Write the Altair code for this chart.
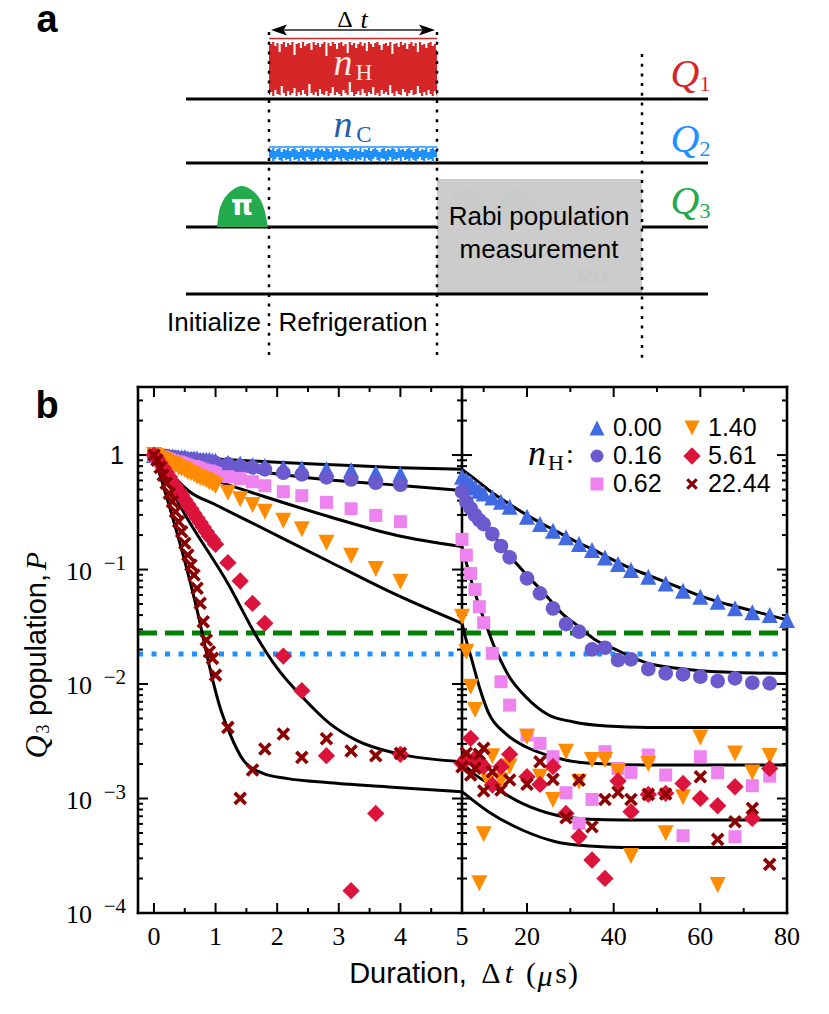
import numpy as np
import pandas as pd
import altair as alt

# time points (us), left part then right part of the broken axis
t_dense = [0, .05, .1, .15, .2, .25, .3, .35, .4, .45, .5, .55, .6, .65, .7, .75, .8, .85, .9, .95, 1]
t_left = t_dense + [1.2, 1.4, 1.6, 1.8, 2.1, 2.4, 2.8, 3.2, 3.6, 4]
t_right = [5, 6, 7, 8, 9, 10, 12, 14, 16, 20, 23, 26, 29, 32, 35, 38, 41, 44, 48, 52, 56, 60, 64, 68, 72, 76, 80]

log_000 = [0, 0, 0, -.01, -.01, -.01, -.01, -.02, -.02, -.02, -.02, -.03, -.03, -.03, -.03, -.04, -.04, -.04, -.04, -.05, -.05,
           -.067, -.073, -.087, -.096, -.108, -.116, -.122, -.131, -.154, -.166,
           -.19, -.219, -.248, -.283, -.312, -.335, -.37, -.408, -.452, -.539, -.603, -.661, -.719, -.778, -.83, -.894, -.952,
           -1.005, -1.063, -1.121, -1.185, -1.238, -1.281, -1.339, -1.374, -1.398, -1.441]
log_016 = [0, 0, -.01, -.01, -.01, -.02, -.02, -.02, -.03, -.03, -.03, -.04, -.04, -.04, -.05, -.05, -.05, -.06, -.06, -.06, -.07,
           -.08, -.096, -.108, -.125, -.154, -.169, -.195, -.213, -.242, -.259,
           -.32, -.408, -.466, -.524, -.568, -.603, -.69, -.795, -.894, -1.077, -1.208, -1.34, -1.476, -1.543, -1.698, -1.683,
           -1.791, -1.785, -1.869, -1.907, -1.916, -1.936, -1.974, -1.951, -1.989, -1.994]
log_062 = [0, -.01, -.02, -.02, -.03, -.04, -.05, -.06, -.06, -.07, -.08, -.09, -.1, -.1, -.11, -.12, -.13, -.14, -.14, -.15, -.16,
           -.189, -.204, -.233, -.268, -.32, -.355, -.413, -.469, -.527, -.582,
           -.737, -.874, -1.034, -1.174, -1.325, -1.465, -1.732, -1.98, -2.184, -2.446, -2.518, -2.635, -2.949, -3.217, -3.008,
           -2.591, -2.737, -2.772, -2.62, -2.795, -3.325, -2.635, -2.775, -3.334, -2.888, -2.804]
log_140 = [0, -.01, -.03, -.04, -.05, -.07, -.08, -.09, -.11, -.12, -.13, -.15, -.16, -.17, -.19, -.2, -.21, -.22, -.24, -.25, -.27,
           -.329, -.387, -.437, -.495, -.574, -.649, -.766, -.879, -.996, -1.106,
           -1.412, -1.718, -2.024, -2.227, -3.741, -3.313, -2.63, -2.84, -2.72, -2.46, -2.81, -3.013, -2.591, -2.853, -2.664,
           -2.664, -2.766, -3.502, -2.699, -3.304, -2.99, -2.466, -3.756, -2.606, -2.772, -2.629]
log_561 = [0, -.03, -.07, -.11, -.15, -.19, -.23, -.27, -.31, -.35, -.39, -.43, -.47, -.51, -.55, -.59, -.63, -.67, -.71, -.74, -.78,
           -.94, -1.1, -1.296, -1.47, -1.756, -2.058, -2.626, -3.805, -3.13, -2.614,
           -2.693, -2.65, -2.474, -2.65, -2.678, -2.72, -2.882, -2.722, -2.614, -2.809, -2.877, -2.722, -3.13, -3.334, -3.537,
           -3.698, -2.847, -3.115, -2.964, -2.955, -2.868, -2.999, -3.063, -2.897, -3.174, -2.737]
log_2244 = [0, -.044, -.108, -.175, -.247, -.335, -.408, -.495, -.582, -.67, -.771, -.873, -.961, -1.048, -1.164, -1.295, -1.456, -1.616, -1.718, -1.776, -1.922,
            -2.379, -2.999, -2.751, -2.568, -2.437, -2.641, -2.478, -2.585, -2.626, -2.606,
            -2.722, -2.605, -2.795, -2.736, -2.614, -2.562, -2.766, -2.926, -2.838, -2.876, -2.679, -2.833, -3.168, -2.839, -3.246,
            -3.008, -2.946, -3.008, -2.964, -2.961, -2.81, -3.357, -3.203, -3.086, -3.575]
t_2244 = t_left + [5, 6, 7, 8, 9, 10, 12, 14, 16, 20, 23, 26, 29, 32, 35, 38, 41, 44, 48, 52, 60, 64, 68, 72, 76]
# points that sit off the regular grid
extra_2244 = (10, -2.934)
extra_140 = (11, -2.85)

# fit curves
fit_000_t = [0, 1, 2, 3, 4, 5, 8, 12, 16, 20, 23, 26, 29, 32, 35, 38, 44, 48, 52, 56, 60, 64, 68, 72, 76, 80]
fit_000 = [0, -.035, -.063, -.087, -.11, -.125, -.21, -.33, -.43, -.525, -.59, -.65, -.71, -.77, -.82, -.88, -.99, -1.05, -1.11, -1.17, -1.23, -1.28, -1.32, -1.36, -1.4, -1.44]
fit_016_t = [0, 1, 2, 3, 4, 5, 8, 12, 16, 20, 24, 28, 32, 36, 40, 44, 48, 52, 60, 68, 80]
fit_016 = [0, -.09, -.165, -.225, -.265, -.31, -.52, -.69, -.88, -1.05, -1.21, -1.38, -1.5, -1.62, -1.69, -1.76, -1.82, -1.85, -1.885, -1.9, -1.907]
fit_062_t = [0, .5, 1, 1.8, 2.85, 3.93, 5, 5.7, 7, 9, 11, 12.3, 14, 15.8, 19.7, 25, 30.5, 38.3, 48, 80]
fit_062 = [0, -.137, -.224, -.364, -.539, -.7, -.8, -.9, -1.08, -1.32, -1.53, -1.66, -1.8, -1.93, -2.111, -2.271, -2.329, -2.367, -2.379, -2.379]
fit_140_t = [0, .3, .58, 1, 1.5, 2.85, 3.93, 5, 6, 7.2, 9.2, 11.1, 15, 19.7, 25.9, 34.4, 48, 80]
fit_140 = [0, -.18, -.32, -.434, -.568, -.932, -1.22, -1.47, -1.62, -1.78, -2.05, -2.25, -2.431, -2.548, -2.635, -2.693, -2.708, -2.708]
fit_561_t = [0, .42, 1.23, 1.66, 1.985, 2.42, 2.85, 3.28, 3.93, 5, 7, 11.1, 18.9, 26.6, 34.4, 42.1, 80]
fit_561 = [0, -.44, -1.15, -1.58, -1.85, -2.12, -2.344, -2.49, -2.606, -2.678, -2.76, -2.868, -3.042, -3.144, -3.182, -3.188, -3.188]
fit_2244_t = [0, .58, .72, .825, .96, 1.07, 1.23, 1.45, 1.77, 2.15, 2.85, 3.93, 5, 11.1, 18.9, 26.6, 34.4, 42.1, 80]
fit_2244 = [0, -1.092, -1.4, -1.66, -1.98, -2.2, -2.431, -2.664, -2.78, -2.824, -2.862, -2.903, -2.94, -3.115, -3.275, -3.377, -3.415, -3.427, -3.427]

# reference levels
green_level = 0.0279
blue_level = 0.0183

series_names = ['0.00', '0.16', '0.62', '1.40', '5.61', '22.44']
series_colors = ['#4169e1', '#6a5acd', '#ee82ee', '#ff8c00', '#dc143c', '#8b0000']

# tick labels
x_labels = [0, 1, 2, 3, 4, 5, 20, 40, 60, 80]
y_labels = [1e-4, 1e-3, 1e-2, 1e-1]
y_exponents = ['−4', '−3', '−2', '−1']

# noise of the two drive bands, edges
red_top = [42, 44, 42, 46, 43, 52, 44, 42, 47, 43,
           45, 42, 55, 44, 43, 48, 42, 46, 44, 43,
           50, 42, 45, 43, 47, 44, 42, 56, 43, 46,
           42, 44, 49, 43, 42, 46, 44, 53, 42, 45,
           43, 48, 44, 42, 46, 43, 51, 42, 44, 47,
           43, 42, 45, 50, 44, 43, 46, 42, 54, 44,
           43, 47, 42, 45, 43, 49, 44, 42, 46, 43,
           52, 42, 45, 44, 48, 43, 42, 46, 44, 50]
red_bottom = [95, 92, 96, 90, 94, 95, 86, 93, 96, 91,
              95, 93, 88, 96, 92, 95, 90, 94, 96, 84,
              93, 95, 92, 96, 89, 94, 95, 91, 96, 93,
              87, 95, 92, 94, 96, 90, 93, 95, 82, 92,
              96, 94, 91, 95, 89, 93, 96, 92, 94, 87,
              95, 93, 96, 90, 94, 92, 95, 85, 93, 96,
              91, 94, 95, 89, 92, 96, 93, 90, 95, 94,
              86, 93, 96, 92, 95, 90, 94, 96, 91, 95]
blue_top = [149, 150, 148, 151, 149, 148, 152, 149, 150, 148,
            151, 149, 148, 150, 152, 149, 148, 151, 149, 150,
            148, 152, 149, 148, 150, 149, 151, 148, 149, 152,
            148, 150, 149, 151, 148, 149, 150, 152, 149, 148,
            150, 149, 151, 148, 152, 149, 150, 148, 151, 149,
            148, 150, 152, 149, 148, 151, 149, 150, 148, 149,
            152, 148, 150, 149, 151, 149, 148, 150, 152, 149,
            148, 151, 149, 150, 148, 152, 149, 148, 150, 149]
blue_bottom = [160, 158, 161, 159, 157, 160, 161, 158, 160, 159,
               161, 157, 160, 159, 161, 158, 160, 161, 157, 159,
               161, 160, 158, 161, 159, 157, 160, 161, 159, 158,
               161, 160, 157, 159, 161, 158, 160, 161, 159, 160,
               158, 161, 159, 160, 157, 161, 158, 160, 161, 159,
               157, 160, 161, 158, 159, 161, 160, 157, 161, 159,
               160, 158, 161, 157, 160, 159, 161, 158, 160, 161,
               159, 157, 160, 161, 158, 160, 159, 161, 157, 160]
pulse_x = [217, 219, 222, 227, 234, 242, 250, 257, 262, 265, 268]
pulse_y = [227, 212, 203, 195, 189, 186, 189, 195, 203, 212, 227]

SERIF = 'Liberation Serif'
SANS = 'Liberation Sans'
W, H = 813, 998
# plot frame inside the view
L, MID, R = 130, 454, 779
TOP, BOT = 379, 905
T_MIN, LOG_TOP = -0.259, np.log10(3.93)

one = alt.Data(values=[{}])
x_scale = alt.Scale(domain=[T_MIN, 5, 80], range=[L, MID, R], nice=False, zero=False)
y_scale = alt.Scale(type='log', domain=[1e-4, 3.93], range=[BOT, TOP], nice=False)
X_plain = alt.X('t:Q', scale=x_scale, axis=None)
Y_plain = alt.Y('P:Q', scale=y_scale, axis=None)


def t_of(px):
    # page pixel to the axis value, for the sketch in the upper part
    return T_MIN + (np.array(px) - 8 - L) * (5 - T_MIN) / (MID - L)


def p_of(py):
    return 10 ** (LOG_TOP - (np.array(py) - 8 - TOP) * (LOG_TOP + 4) / (BOT - TOP))


def label(s, x, y, size, font=SANS, style='normal', weight='normal', color='black', angle=0, align='center'):
    # x, y are page pixels
    return alt.Chart(one).mark_text(text=s, font=font, fontSize=size, fontStyle=style, fontWeight=weight,
                                    color=color, angle=angle, align=align, baseline='middle').encode(
        x=alt.value(x - 8), y=alt.value(y - 8))


def seg(x1, y1, x2, y2, width=3, color='black', dash=None):
    kw = {'strokeDash': dash} if dash else {}
    return alt.Chart(one).mark_rule(strokeWidth=width, color=color, strokeCap='butt', **kw).encode(
        x=alt.value(x1 - 8), x2=alt.value(x2 - 8), y=alt.value(y1 - 8), y2=alt.value(y2 - 8))


def blob(px, top, bottom, color, interp):
    df = pd.DataFrame({'t': t_of(px), 'P': p_of(top), 'P2': p_of(bottom)})
    return alt.Chart(df).mark_area(color=color, opacity=1, interpolate=interp).encode(x=X_plain, y=Y_plain, y2='P2:Q')


def band(top, bottom, color):
    return blob(np.linspace(269, 437, len(top)), top, bottom, color, 'step')


RED, BLUE, GREEN = '#d62728', '#1e90ff', '#22aa4c'
dots = [3, 6.7]

pulse = blob(pulse_x, pulse_y, [227] * len(pulse_x), GREEN, 'monotone')

arrow_l = alt.Chart(one).mark_point(shape='M-1,0L1,-0.7L0.55,0L1,0.7Z', filled=True, size=256, color='black', opacity=1).encode(
    x=alt.value(279 - 8), y=alt.value(30 - 8))
arrow_r = alt.Chart(one).mark_point(shape='M1,0L-1,-0.7L-0.55,0L-1,0.7Z', filled=True, size=256, color='black', opacity=1).encode(
    x=alt.value(427 - 8), y=alt.value(30 - 8))
ghost = [alt.Chart(one).mark_point(shape='circle', filled=True, size=1300, color='#c9cbc9', opacity=1).encode(
    x=alt.value(gx - 8), y=alt.value(206 - 8)) for gx in (467, 517)]

diagram = [
    seg(186, 227, 708, 227),
    alt.Chart(one).mark_rect(color='#cccccc').encode(x=alt.value(437 - 8), x2=alt.value(642 - 8), y=alt.value(179 - 8), y2=alt.value(293 - 8)),
    *ghost,
    label('RO', 593, 278, 20, weight='bold', color='#c8c8c8'),
    seg(186, 99, 708, 99),
    seg(186, 163, 708, 163),
    seg(186, 294, 708, 294),
    band(red_top, red_bottom, RED),
    seg(269, 38.5, 437, 38.5, width=1.5, color=RED),
    band(blue_top, blue_bottom, BLUE),
    seg(269, 147, 437, 147, width=1.5, color=BLUE),
    pulse,
    seg(269, 32, 269, 359, width=2.5, dash=dots),
    seg(437, 32, 437, 359, width=2.5, dash=dots),
    seg(642, 54, 642, 359, width=2.5, dash=dots),
    seg(280, 30, 426, 30, width=1.5, color='#222222'),
    arrow_l, arrow_r,
    label('Δ', 345, 20, 24, font=SERIF),
    label('t', 364, 20, 26, font=SERIF, style='italic'),
    label('n', 343, 64, 38, font=SERIF, style='italic', color='#fbe9e9'),
    label('H', 364, 73, 23, font=SERIF, color='#fbe9e9'),
    label('n', 343, 126, 38, font=SERIF, style='italic', color='#2a5caa'),
    label('C', 364, 135, 23, font=SERIF, color='#2a5caa'),
    label('π', 242, 207, 28, font='DejaVu Sans', weight='bold', color='white'),
    label('Q', 685, 75, 40, font=SERIF, style='italic', color=RED),
    label('1', 705, 84, 22, font=SERIF, color=RED),
    label('Q', 685, 140, 40, font=SERIF, style='italic', color=BLUE),
    label('2', 705, 149, 22, font=SERIF, color=BLUE),
    label('Q', 685, 202, 40, font=SERIF, style='italic', color=GREEN),
    label('3', 705, 211, 22, font=SERIF, color=GREEN),
    label('Rabi population', 539, 217, 26),
    label('measurement', 539, 250, 26),
    label('Initialize', 214, 323, 26),
    label('Refrigeration', 353, 323, 26),
    label('a', 47, 21, 38, weight='bold'),
    label('b', 47, 407, 38, weight='bold'),
]


def hline(level, t0, t1, color, width, dash):
    df = pd.DataFrame({'t': [t0], 't1': [t1], 'P': [level]})
    return alt.Chart(df).mark_rule(color=color, strokeWidth=width, strokeDash=dash, strokeCap='butt').encode(
        x=X_plain, x2='t1:Q', y=Y_plain)


levels = [
    hline(green_level, T_MIN, 5, 'green', 5, [19, 8]),
    hline(green_level, 5, 80, 'green', 5, [19, 8]),
    hline(blue_level, T_MIN, 5, '#1e90ff', 5, [5, 8.5]),
    hline(blue_level, 5, 80, '#1e90ff', 5, [5, 8.5]),
]

# each curve is drawn in two pieces, the axis changes pace at t = 5
fits = []
for ft, fl in [(fit_000_t, fit_000), (fit_016_t, fit_016), (fit_062_t, fit_062),
               (fit_140_t, fit_140), (fit_561_t, fit_561), (fit_2244_t, fit_2244)]:
    df = pd.DataFrame({'t': ft, 'P': 10 ** np.array(fl)})
    for part in (df[df.t <= 5], df[df.t >= 5]):
        fits.append(alt.Chart(part).mark_line(color='black', strokeWidth=3, interpolate='monotone').encode(
            x=X_plain, y=Y_plain))

# ticks point inward, so they are drawn as rules on the same scales
y_major = [1e-4, 1e-3, 1e-2, 1e-1, 1]
y_minor = [m * 10.0 ** e for e in range(-4, 1) for m in range(2, 10) if m * 10.0 ** e < 3.9]
x_major = [0, 1, 2, 3, 4, 20, 40, 60]
x_minor = [.5, 1.5, 2.5, 3.5, 4.5, 10, 30, 50, 70]


def yticks(vals, x0, x1):
    return alt.Chart(pd.DataFrame({'P': vals})).mark_rule(color='black', strokeWidth=2).encode(
        y=Y_plain, x=alt.value(x0), x2=alt.value(x1))


def xticks(vals, y0, y1):
    return alt.Chart(pd.DataFrame({'t': vals})).mark_rule(color='black', strokeWidth=2).encode(
        x=X_plain, y=alt.value(y0), y2=alt.value(y1))


ticks = [
    yticks(y_major, L, L + 10), yticks(y_minor, L, L + 5),
    yticks(y_major, MID - 10, MID + 10), yticks(y_minor, MID - 5, MID + 5),
    yticks(y_major, R - 10, R), yticks(y_minor, R - 5, R),
    xticks(x_major, TOP, TOP + 10), xticks(x_minor, TOP, TOP + 5),
    xticks(x_major, BOT - 10, BOT), xticks(x_minor, BOT - 5, BOT),
]


def frame(x1, y1, x2, y2):
    return alt.Chart(one).mark_rule(color='black', strokeWidth=2.6, strokeCap='square').encode(
        x=alt.value(x1), x2=alt.value(x2), y=alt.value(y1), y2=alt.value(y2))


frames = [frame(L, TOP, R, TOP), frame(L, BOT, R, BOT), frame(L, TOP, L, BOT), frame(R, TOP, R, BOT), frame(MID, TOP, MID, BOT)]

# tick labels placed through the scales
x_tick_text = alt.Chart(pd.DataFrame({'t': x_labels, 's': [str(v) for v in x_labels]})).mark_text(
    font=SERIF, fontSize=26, color='black', baseline='middle').encode(x=X_plain, y=alt.value(929), text='s:N')
y_tick_ten = alt.Chart(pd.DataFrame({'P': y_labels})).mark_text(
    text='10', font=SERIF, fontSize=26, color='black', align='right', baseline='middle', dy=2).encode(
    y=Y_plain, x=alt.value(84))
exponents = alt.Chart(pd.DataFrame({'P': y_labels, 'e': y_exponents})).mark_text(
    font=SERIF, fontSize=21, align='right', baseline='middle', color='black', dy=-6).encode(
    y=Y_plain, x=alt.value(118), text='e:N')
tick_one = alt.Chart(pd.DataFrame({'P': [1]})).mark_text(
    text='1', font=SANS, fontSize=25, align='right', baseline='middle', color='black', dy=1).encode(
    y=Y_plain, x=alt.value(116))

# markers
tri_up = 'M0,-1L1,1L-1,1Z'
tri_down = 'M0,1L1,-1L-1,-1Z'
cross = 'M-1,-0.62L-0.62,-1L0,-0.38L0.62,-1L1,-0.62L0.38,0L1,0.62L0.62,1L0,0.38L-0.62,1L-1,0.62L-0.38,0Z'
shapes = [tri_up, 'circle', 'square', tri_down, 'diamond', cross]
sizes = [256, 216, 169, 256, 300, 185]
legend_sizes = [225, 169, 169, 225, 300, 137]
all_logs = [log_000, log_016, log_062, log_140, log_561, log_2244]
all_t = [t_left + t_right, t_left + t_right[:-1], t_left + t_right[:-1], t_left + t_right[:-1], t_left + t_right[:-1], t_2244]

markers = []
for i, name in enumerate(series_names):
    tt = list(all_t[i])
    ll = list(all_logs[i])
    if name == '1.40':
        tt.append(extra_140[0]); ll.append(extra_140[1])
    if name == '22.44':
        tt.append(extra_2244[0]); ll.append(extra_2244[1])
    df = pd.DataFrame({'t': tt, 'P': 10 ** np.array(ll)})
    markers.append(alt.Chart(df).mark_point(shape=shapes[i], size=sizes[i], filled=True, color=series_colors[i], opacity=1).encode(
        x=X_plain, y=Y_plain))

legend_x = [597, 597, 597, 692, 692, 692]
legend_y = [428, 456, 484, 428, 456, 484]
legend = []
for i, name in enumerate(series_names):
    legend.append(alt.Chart(one).mark_point(shape=shapes[i], size=legend_sizes[i], filled=True, color=series_colors[i], opacity=1).encode(
        x=alt.value(legend_x[i] - 8), y=alt.value(legend_y[i] - 8)))
    legend.append(label(name, legend_x[i] + 16, legend_y[i], 25, align='left'))

text_b = [
    label('n', 537, 454, 36, font=SERIF, style='italic'),
    label('H', 556, 463, 22, font=SERIF),
    label(':', 570, 455, 28, font=SERIF),
    label('Duration,', 408, 974, 29),
    label('Δ', 491, 974, 30, font=SERIF),
    label('t', 509, 974, 30, font=SERIF, style='italic'),
    label('(', 531, 974, 30, font=SERIF),
    label('μ', 545, 977, 30, font=SERIF, style='italic'),
    label('s', 561, 974, 30, font=SERIF),
    label(')', 573, 974, 30, font=SERIF),
    label('Q', 37, 747, 32, font=SERIF, style='italic', angle=270),
    label('3', 44, 729, 18, font=SERIF, angle=270),
    label('population,', 37, 645, 29, angle=270),
    label('P', 37, 561, 30, font=SERIF, style='italic', angle=270),
]

chart = alt.layer(*diagram, *levels, *fits, *ticks, *frames, x_tick_text, y_tick_ten, exponents, tick_one, *markers, *legend, *text_b).properties(
    width=W, height=H, padding=0, autosize=alt.AutoSizeParams(type='none')
).configure_view(strokeWidth=0)

chart.save("out.html", embed_options={"renderer": "svg", "actions": False})
